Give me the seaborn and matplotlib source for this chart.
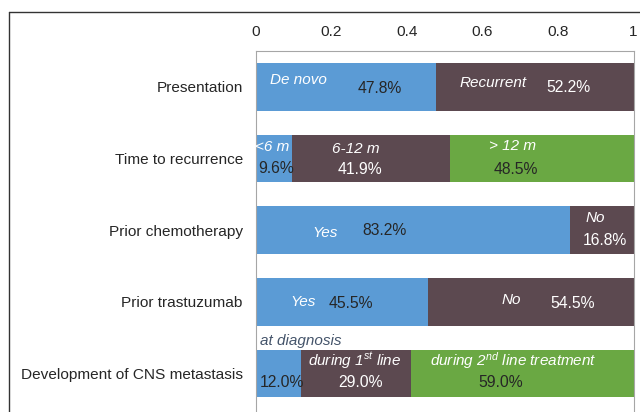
import matplotlib
matplotlib.use("Agg")
import matplotlib.pyplot as plt
import seaborn as sns
import numpy as np
import pandas as pd
from matplotlib.lines import Line2D

# data
categories = ["Presentation", "Time to recurrence", "Prior chemotherapy",
              "Prior trastuzumab", "Development of CNS metastasis"]
seg1 = [0.478, 0.096, 0.832, 0.455, 0.120]
seg2 = [0.522, 0.419, 0.168, 0.545, 0.290]
seg3 = [0.0, 0.485, 0.0, 0.0, 0.590]
seg1_names = ["De novo", "<6 m", "Yes", "Yes", "at diagnosis"]
seg2_names = ["Recurrent", "6-12 m", "No", "No", "during 1$^{st}$ line"]
seg3_names = ["", "> 12 m", "", "", "during 2$^{nd}$ line treatment"]
xticks = [0, 0.2, 0.4, 0.6, 0.8, 1]

sns.set_style("white")
plt.rcParams["font.family"] = ["Liberation Sans", "DejaVu Sans"]
plt.rcParams["mathtext.fontset"] = "custom"
plt.rcParams["mathtext.it"] = "Liberation Sans:italic"
plt.rcParams["mathtext.rm"] = "Liberation Sans:italic"

BLUE = "#5b9bd5"
BROWN = "#5c4950"
GREEN = "#6aa843"
DARK = "#262626"

df = pd.DataFrame({"cat": categories, "s1": seg1, "s2": seg2, "s3": seg3})
df["c1"] = df["s1"]
df["c2"] = df["s1"] + df["s2"]
df["c3"] = df["c2"] + df["s3"]

fig = plt.figure(figsize=(6.4, 4.12), dpi=100)
ax = fig.add_axes([256 / 640, 0, 377.5 / 640, 361 / 412])

bw = 0.665
# layered stacking: draw longest cumulative first
third = df[df["s3"] > 0]
sns.barplot(data=third, x="c3", y="cat", order=categories, orient="h",
            color=GREEN, saturation=1, width=bw, ax=ax, linewidth=0)
sns.barplot(data=df, x="c2", y="cat", order=categories, orient="h",
            color=BROWN, saturation=1, width=bw, ax=ax, linewidth=0)
sns.barplot(data=df, x="c1", y="cat", order=categories, orient="h",
            color=BLUE, saturation=1, width=bw, ax=ax, linewidth=0)

ax.set_xlim(0, 1)
ax.set_ylim(4.54, -0.5)
ax.set_xlabel("")
ax.set_ylabel("")
ax.set_xticks(xticks)
ax.set_xticklabels([f"{t:g}" for t in xticks])
ax.xaxis.tick_top()
ax.tick_params(axis="x", length=0, pad=8.5, labelsize=11.1, colors=DARK)
ax.tick_params(axis="y", length=0, pad=9.5, labelsize=11.1, colors=DARK)
for side in ["top", "left", "right"]:
    ax.spines[side].set_color("#a6a6a6")
    ax.spines[side].set_linewidth(0.8)
ax.spines["bottom"].set_visible(False)

# text layout: (row, x, dy, text, color, ha)
fs_name = 11
fs_val = 11.3
name_layout = [
    (0, 0.112, -0.095, seg1_names[0], "white", "center"),
    (0, 0.627, -0.06, seg2_names[0], "white", "center"),
    (1, 0.044, -0.16, seg1_names[1], "white", "center"),
    (1, 0.264, -0.13, seg2_names[1], "white", "center"),
    (1, 0.680, -0.18, seg3_names[1], "white", "center"),
    (2, 0.183, 0.045, seg1_names[2], "white", "center"),
    (2, 0.900, -0.165, seg2_names[2], "white", "center"),
    (3, 0.126, 0.0, seg1_names[3], "white", "center"),
    (3, 0.677, -0.025, seg2_names[3], "white", "center"),
    (4, 0.011, -0.45, seg1_names[4], "#44546a", "left"),
    (4, 0.262, -0.18, seg2_names[4], "white", "center"),
    (4, 0.681, -0.18, seg3_names[4], "white", "center"),
]
for row, x, dy, txt, col, ha in name_layout:
    ax.text(x, row + dy, txt, color=col, fontsize=fs_name, style="italic",
            ha=ha, va="center")

value_layout = [
    (0, 0.328, 0.02, seg1[0], DARK),
    (0, 0.827, 0.013, seg2[0], "white"),
    (1, 0.052, 0.14, seg1[1], DARK),
    (1, 0.275, 0.16, seg2[1], "white"),
    (1, 0.688, 0.16, seg3[1], DARK),
    (2, 0.341, 0.0, seg1[2], DARK),
    (2, 0.923, 0.14, seg2[2], "white"),
    (3, 0.251, 0.03, seg1[3], DARK),
    (3, 0.840, 0.03, seg2[3], "white"),
    (4, 0.070, 0.125, seg1[4], DARK),
    (4, 0.278, 0.125, seg2[4], "white"),
    (4, 0.649, 0.125, seg3[4], DARK),
]
for row, x, dy, v, col in value_layout:
    ax.text(x, row + dy, f"{v * 100:.1f}%", color=col, fontsize=fs_val,
            ha="center", va="center")

# outer frame
fig.add_artist(Line2D([9 / 640, 1], [1 - 12 / 412] * 2,
                      transform=fig.transFigure, color="#333333", lw=1))
fig.add_artist(Line2D([9 / 640] * 2, [0, 1 - 12 / 412],
                      transform=fig.transFigure, color="#333333", lw=1))

fig.savefig("out.png", dpi=100)
